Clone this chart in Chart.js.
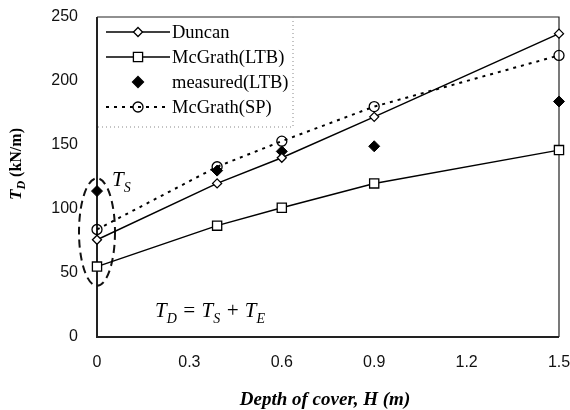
<!DOCTYPE html>
<html>
<head>
<meta charset="utf-8">
<script src="https://cdn.jsdelivr.net/npm/chart.js@4.4.1/dist/chart.umd.min.js"></script>
<style>
  html, body { margin: 0; padding: 0; background: #fff; }
  canvas { display: block; }
</style>
</head>
<body>
<canvas id="chart" width="570" height="410"></canvas>
<script>
// depth of cover H (m)
const depths = [0, 0.39, 0.6, 0.9, 1.5];

// T_D (kN/m)
const duncan = [76, 120, 140, 172, 237];
const mcgrathLTB = [55, 87, 101, 120, 146];
const measuredLTB = [114, 130, 145, 149, 184];
const mcgrathSP = [84, 133, 153, 180, 220];

const xTicks = [0, 0.3, 0.6, 0.9, 1.2, 1.5];
const yTicks = [0, 50, 100, 150, 200, 250];

// dashed ellipse round the H = 0 values (T_S)
const ellipseX = 0;
const ellipseY = [40, 124];

const toPoints = vals => vals.map((v, i) => ({ x: depths[i], y: v }));

const tickFont = { family: 'Liberation Sans', size: 16 };
const serif = 'Liberation Serif';

function drawMarker(ctx, style, x, y, r, fill) {
    ctx.save();
    ctx.beginPath();
    if (style === 'rect') {
        const s = r * Math.SQRT1_2;
        ctx.rect(x - s, y - s, 2 * s, 2 * s);
    } else if (style === 'rectRot') {
        ctx.moveTo(x, y - r);
        ctx.lineTo(x + r, y);
        ctx.lineTo(x, y + r);
        ctx.lineTo(x - r, y);
        ctx.closePath();
    } else {
        ctx.arc(x, y, r, 0, Math.PI * 2);
    }
    ctx.setLineDash([]);
    ctx.fillStyle = fill;
    ctx.fill();
    ctx.lineWidth = 1.3;
    ctx.strokeStyle = '#000';
    ctx.stroke();
    ctx.restore();
}

// text with subscript pieces: [[text, sub], ...]
function subText(ctx, parts, x, y, size, style, measureOnly) {
    let cx = x;
    parts.forEach(([main, sub]) => {
        ctx.font = style + ' ' + size + 'px "' + serif + '"';
        if (!measureOnly) ctx.fillText(main, cx, y);
        cx += ctx.measureText(main).width;
        if (sub) {
            ctx.font = style + ' ' + Math.round(size * 0.68) + 'px "' + serif + '"';
            if (!measureOnly) ctx.fillText(sub, cx, y + size * 0.28);
            cx += ctx.measureText(sub).width;
        }
    });
    return cx - x;
}

const extras = {
    id: 'extras',
    beforeDatasetsDraw(chart) {
        const { ctx, chartArea: a } = chart;
        ctx.save();
        ctx.strokeStyle = '#222';
        ctx.lineWidth = 1.2;
        ctx.beginPath();
        ctx.moveTo(a.left, a.top);
        ctx.lineTo(a.right, a.top);
        ctx.lineTo(a.right, a.bottom);
        ctx.stroke();
        ctx.lineWidth = 2;
        ctx.beginPath();
        ctx.moveTo(a.left, a.top);
        ctx.lineTo(a.left, a.bottom);
        ctx.lineTo(a.right, a.bottom);
        ctx.stroke();

        // dashed ellipse
        const xs = chart.scales.x, ys = chart.scales.y;
        const cx = xs.getPixelForValue(ellipseX);
        const y1 = ys.getPixelForValue(ellipseY[1]);
        const y2 = ys.getPixelForValue(ellipseY[0]);
        ctx.setLineDash([8, 5]);
        ctx.lineWidth = 2;
        ctx.strokeStyle = '#111';
        ctx.beginPath();
        ctx.ellipse(cx, (y1 + y2) / 2, 18, (y2 - y1) / 2, 0, 0, Math.PI * 2);
        ctx.stroke();
        ctx.restore();
    },
    afterDraw(chart) {
        const { ctx, chartArea: a } = chart;
        ctx.save();
        ctx.fillStyle = '#000';
        ctx.textBaseline = 'alphabetic';

        // T_S label
        subText(ctx, [['T', 'S']], a.left + 15, a.top + 169, 21, 'italic', false);

        // formula
        subText(ctx, [['T', 'D'], [' = ', ''], ['T', 'S'], [' + ', ''], ['T', 'E']],
            a.left + 58, a.top + 300, 21, 'italic', false);

        // x title
        ctx.font = 'bold italic 19px "' + serif + '"';
        ctx.textAlign = 'center';
        ctx.textBaseline = 'middle';
        ctx.fillText('Depth of cover, H (m)', (a.left + a.right) / 2 - 3, 400);

        // y title
        ctx.save();
        ctx.translate(17, 164);
        ctx.rotate(-Math.PI / 2);
        ctx.textAlign = 'left';
        ctx.textBaseline = 'middle';
        let w = subText(ctx, [['T', 'D']], 0, 0, 17, 'bold italic', true);
        ctx.font = 'bold 16px "' + serif + '"';
        w += ctx.measureText(' (kN/m)').width;
        const sx = -w / 2;
        const tw = subText(ctx, [['T', 'D']], sx, 0, 17, 'bold italic', false);
        ctx.font = 'bold 16px "' + serif + '"';
        ctx.fillText(' (kN/m)', sx + tw, 0);
        ctx.restore();

        // legend
        const lx0 = a.left + 9, lx1 = a.left + 73, mid = (lx0 + lx1) / 2;
        ctx.save();
        ctx.strokeStyle = '#888';
        ctx.lineWidth = 1;
        ctx.setLineDash([1, 3]);
        ctx.beginPath();
        ctx.moveTo(a.left + 196, a.top);
        ctx.lineTo(a.left + 196, a.top + 110);
        ctx.lineTo(a.left, a.top + 110);
        ctx.stroke();
        ctx.restore();

        chart.data.datasets.forEach((ds, i) => {
            const y = a.top + 15 + i * 25;
            if (ds.showLine !== false) {
                ctx.save();
                ctx.strokeStyle = ds.borderColor;
                ctx.lineWidth = ds.borderWidth;
                ctx.setLineDash(ds.borderDash || []);
                ctx.beginPath();
                ctx.moveTo(lx0, y);
                ctx.lineTo(lx1, y);
                ctx.stroke();
                ctx.restore();
            }
            drawMarker(ctx, ds.pointStyle, mid, y, ds.pointRadius, ds.pointBackgroundColor);
            ctx.fillStyle = '#000';
            ctx.font = '18.5px "' + serif + '"';
            ctx.textAlign = 'left';
            ctx.textBaseline = 'middle';
            ctx.fillText(ds.label, a.left + 75, y + 1);
        });
        ctx.restore();
    }
};

new Chart(document.getElementById('chart'), {
    type: 'line',
    data: {
        datasets: [
            { label: 'Duncan', data: toPoints(duncan), borderColor: '#000', borderWidth: 1.5,
              pointStyle: 'rectRot', pointRadius: 4.5, pointBackgroundColor: '#fff',
              pointBorderColor: '#000', pointBorderWidth: 1.3 },
            { label: 'McGrath(LTB)', data: toPoints(mcgrathLTB), borderColor: '#000', borderWidth: 1.5,
              pointStyle: 'rect', pointRadius: 6.5, pointBackgroundColor: '#fff',
              pointBorderColor: '#000', pointBorderWidth: 1.3 },
            { label: 'measured(LTB)', data: toPoints(measuredLTB), showLine: false,
              pointStyle: 'rectRot', pointRadius: 5.5, pointBackgroundColor: '#000',
              pointBorderColor: '#000', pointBorderWidth: 1 },
            { label: 'McGrath(SP)', data: toPoints(mcgrathSP), borderColor: '#000', borderWidth: 2,
              borderDash: [3, 5], pointStyle: 'circle', pointRadius: 5, pointBackgroundColor: 'rgba(255,255,255,0)',
              pointBorderColor: '#000', pointBorderWidth: 1.3 }
        ]
    },
    options: {
        responsive: false,
        animation: false,
        clip: false,
        layout: { padding: { top: 17, right: 11, left: 0, bottom: 0 } },
        elements: { line: { tension: 0 } },
        plugins: { legend: { display: false }, tooltip: { enabled: false } },
        scales: {
            x: {
                type: 'linear', min: 0, max: 1.5,
                afterBuildTicks: s => { s.ticks = xTicks.map(v => ({ value: v })); },
                afterFit: s => { s.height = 73; s.paddingLeft = 0; s.paddingRight = 0; },
                grid: { display: false, drawTicks: false },
                border: { display: false },
                ticks: { padding: 16, color: '#111', font: tickFont, maxRotation: 0,
                         callback: v => v === 0 ? '0' : v.toFixed(1) }
            },
            y: {
                min: 0, max: 250,
                afterBuildTicks: s => { s.ticks = yTicks.map(v => ({ value: v })); },
                afterFit: s => { s.width = 97; s.paddingTop = 0; s.paddingBottom = 0; },
                grid: { display: false, drawTicks: false },
                border: { display: false },
                ticks: { padding: 19, color: '#111', font: tickFont }
            }
        }
    },
    plugins: [extras]
});
</script>
</body>
</html>
